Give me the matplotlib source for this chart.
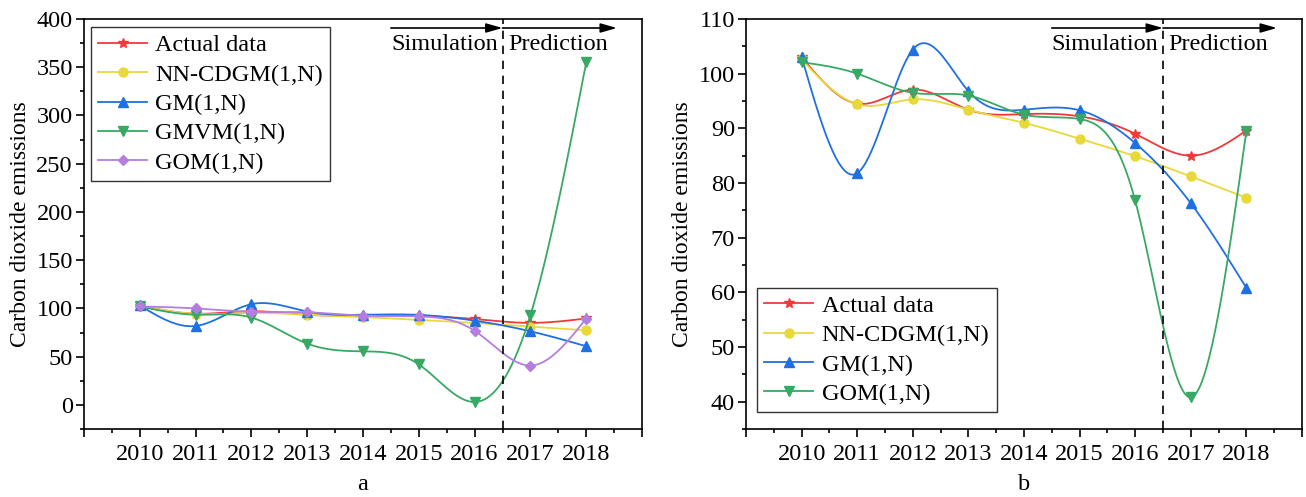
import matplotlib
matplotlib.use("Agg")
import matplotlib.pyplot as plt
import matplotlib.transforms as mtransforms
from matplotlib.ticker import MultipleLocator
import numpy as np

plt.rcParams['font.family'] = ['Liberation Serif', 'DejaVu Serif']
plt.rcParams['mathtext.fontset'] = 'stix'

years = [2010, 2011, 2012, 2013, 2014, 2015, 2016, 2017, 2018]

actual = [103.0, 94.5, 97.1, 93.4, 92.6, 92.2, 89.0, 85.0, 89.6]
nn_cdgm = [102.6, 94.4, 95.3, 93.4, 91.0, 88.1, 84.9, 81.2, 77.3]
gm = [103.1, 81.8, 104.4, 96.8, 93.4, 93.3, 87.3, 76.3, 60.8]
gmvm = [102.0, 93.5, 90.5, 63.5, 55.5, 42.0, 3.0, 93.0, 355.0]
gom = [102.1, 100.0, 96.5, 96.0, 92.5, 91.7, 76.8, 40.8, 89.5]

c_red = '#F0393B'
c_yel = '#E8D93A'
c_blu = '#1F70E0'
c_grn = '#38A865'
c_pur = '#B47EE0'


def spline(x, y, n=300):
    # natural cubic spline through the points (Origin "spline" connect)
    x = np.asarray(x, float)
    y = np.asarray(y, float)
    k = len(x)
    h = np.diff(x)
    A = np.zeros((k, k))
    r = np.zeros(k)
    A[0, 0] = A[-1, -1] = 1
    for i in range(1, k - 1):
        A[i, i - 1] = h[i - 1]
        A[i, i] = 2 * (h[i - 1] + h[i])
        A[i, i + 1] = h[i]
        r[i] = 6 * ((y[i + 1] - y[i]) / h[i] - (y[i] - y[i - 1]) / h[i - 1])
    m = np.linalg.solve(A, r)
    xs = np.linspace(x[0], x[-1], n)
    idx = np.clip(np.searchsorted(x, xs) - 1, 0, k - 2)
    t0 = x[idx]
    t1 = x[idx + 1]
    hh = t1 - t0
    a = (t1 - xs) / hh
    b = (xs - t0) / hh
    ys = (a * y[idx] + b * y[idx + 1]
          + ((a ** 3 - a) * m[idx] + (b ** 3 - b) * m[idx + 1]) * hh ** 2 / 6)
    return xs, ys


def draw(ax, vals, color, marker, label, ms=6.5):
    xs, ys = spline(years, vals)
    ax.plot(xs, ys, color=color, lw=1.3)
    ax.plot(years, vals, ls='none', marker=marker, color=color, ms=ms)
    ax.plot([], [], color=color, lw=1.3, marker=marker, ms=ms, label=label)


def style(ax, ylo, yhi, ymaj, ymin, xl):
    ax.set_xlim(2009, 2019)
    ax.set_ylim(ylo, yhi)
    ax.set_xticks(range(2009, 2020))
    ax.set_xticklabels([''] + [str(y) for y in years] + [''])
    ax.xaxis.set_minor_locator(MultipleLocator(0.5))
    ax.yaxis.set_major_locator(MultipleLocator(ymaj))
    ax.yaxis.set_minor_locator(MultipleLocator(ymin))
    ax.tick_params(which='major', direction='out', length=6, width=1.2,
                   labelsize=17.5, pad=5)
    ax.tick_params(axis='y', which='major', pad=2)
    ax.tick_params(which='minor', direction='out', length=3, width=1.2)
    for s in ax.spines.values():
        s.set_linewidth(1.2)
    ax.set_ylabel('Carbon dioxide emissions', fontsize=17, labelpad=4)
    ax.set_xlabel(xl, fontsize=17.5, labelpad=6)
    # simulation / prediction markers
    ax.axvline(2016.5, color='black', ls=(0, (5, 4)), lw=1.2)
    tr = mtransforms.blended_transform_factory(ax.transData, ax.transAxes)
    ax.annotate('', xy=(2016.5, 0.978), xytext=(2014.5, 0.978), xycoords=tr,
                textcoords=tr, arrowprops=dict(arrowstyle='-|>,head_length=0.7,head_width=0.2',
                                               color='black', lw=1.2,
                                               mutation_scale=14, shrinkA=0, shrinkB=0))
    ax.annotate('', xy=(2018.55, 0.978), xytext=(2016.5, 0.978), xycoords=tr,
                textcoords=tr, arrowprops=dict(arrowstyle='-|>,head_length=0.7,head_width=0.2',
                                               color='black', lw=1.2,
                                               mutation_scale=14, shrinkA=0, shrinkB=0))
    ax.text(2016.42, 0.938, 'Simulation', transform=tr, ha='right',
            va='center', fontsize=17.5)
    ax.text(2016.6, 0.938, 'Prediction', transform=tr, ha='left',
            va='center', fontsize=17.5)


fig = plt.figure(figsize=(13.06, 4.97), dpi=100)
ax1 = fig.add_axes([0.0643, 0.1368, 0.4273, 0.825])
ax2 = fig.add_axes([0.5712, 0.1368, 0.4257, 0.825])

draw(ax1, actual, c_red, '*', 'Actual data', ms=7.5)
draw(ax1, nn_cdgm, c_yel, 'o', 'NN-CDGM(1,N)')
draw(ax1, gm, c_blu, '^', 'GM(1,N)')
draw(ax1, gmvm, c_grn, 'v', 'GMVM(1,N)')
draw(ax1, gom, c_pur, 'D', 'GOM(1,N)', ms=5.5)
style(ax1, -25, 400, 50, 25, 'a')

draw(ax2, actual, c_red, '*', 'Actual data', ms=7.5)
draw(ax2, nn_cdgm, c_yel, 'o', 'NN-CDGM(1,N)')
draw(ax2, gm, c_blu, '^', 'GM(1,N)')
draw(ax2, gom, c_grn, 'v', 'GOM(1,N)')
style(ax2, 35, 110, 10, 5, 'b')

leg_kw = dict(fontsize=17.5, frameon=True, fancybox=False, numpoints=1,
              handlelength=2.0, handletextpad=0.35, labelspacing=0.3,
              borderpad=0.3, borderaxespad=0, edgecolor='black')
l1 = ax1.legend(loc='upper left', bbox_to_anchor=(0.0125, 0.98), **leg_kw)
l2 = ax2.legend(loc='lower left', bbox_to_anchor=(0.02, 0.041), **leg_kw)
for l in (l1, l2):
    l.get_frame().set_linewidth(1.0)

fig.savefig('out.png', dpi=100)
